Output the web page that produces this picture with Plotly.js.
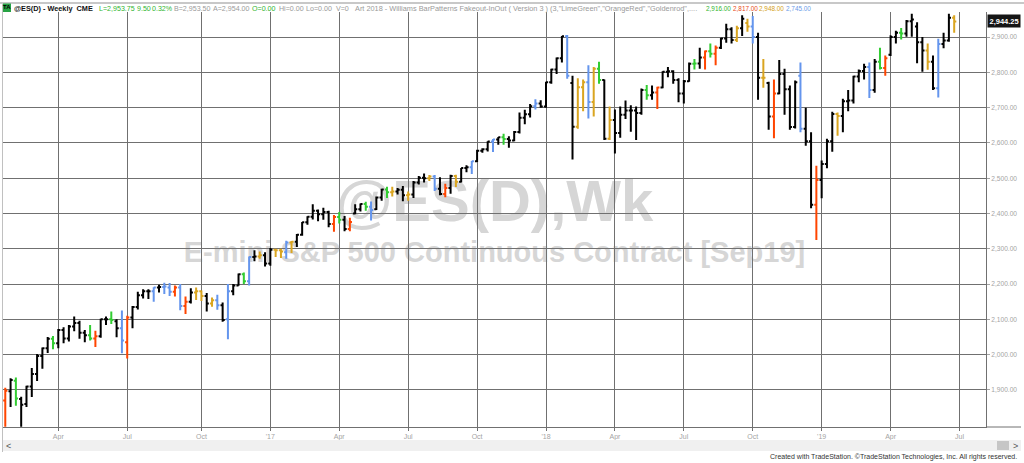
<!DOCTYPE html>
<html>
<head>
<meta charset="utf-8">
<script src="https://cdn.plot.ly/plotly-3.0.1.min.js"></script>
<style>
html,body{margin:0;padding:0;background:#ffffff;}
#chart{width:1024px;height:463px;}
</style>
</head>
<body>
<div id="chart"></div>
<script>
// ---- data: weekly bars of @ES(D), first bar = week ending 2016-01-22 ----
const firstWeekEnding = '2016-01-22';
const opens = [
1870,1896,1926,1874,1860,1910,1945,1996,2018,2045,
2032,2070,2046,2080,2090,2062,2055,2046,2052,2100,
2100,2095,2075,2035,2105,2135,2168,2180,2180,2190,
2192,2190,2178,2190,2138,2150,2176,2180,2166,2145,
2154,2140,2100,2180,2196,2228,2208,2277,2278,2282,
2258,2297,2296,2290,2318,2320,2340,2375,2391,2408,
2398,2404,2370,2390,2382,2356,2400,2412,2427,2419,
2412,2445,2468,2460,2462,2467,2452,2454,2488,2501,
2500,2505,2470,2455,2472,2506,2490,2529,2531,2548,
2578,2582,2604,2610,2616,2611,2607,2631,2671,2681,
2704,2712,2703,2772,2808,2840,2902,2770,2646,2758,
2772,2716,2810,2778,2612,2665,2628,2680,2692,2692,
2685,2750,2735,2743,2757,2802,2803,2778,2740,2775,
2824,2825,2842,2860,2853,2870,2896,2922,2892,2925,
2940,2930,2900,2785,2770,2675,2740,2795,2752,2645,
2790,2640,2605,2425,2495,2540,2605,2682,2676,2718,
2720,2788,2804,2815,2750,2830,2812,2850,2900,2912,
2910,2945,2930,2885,2862,2830,2755,2880,2890,2955];
const highs = [
1906,1933,1935,1881,1912,1962,2002,2020,2050,2053,
2073,2078,2084,2108,2096,2070,2084,2068,2102,2108,
2122,2100,2125,2110,2138,2178,2185,2185,2191,2198,
2204,2203,2196,2200,2165,2188,2190,2182,2175,2162,
2170,2148,2200,2200,2230,2233,2278,2296,2292,2290,
2302,2300,2300,2323,2322,2342,2376,2392,2426,2411,
2416,2408,2396,2404,2393,2388,2426,2428,2433,2434,
2448,2470,2476,2476,2472,2478,2462,2492,2506,2513,
2509,2509,2503,2484,2510,2510,2529,2537,2549,2581,
2585,2605,2611,2617,2626,2619,2634,2686,2694,2710,
2724,2721,2773,2810,2842,2903,2906,2790,2783,2780,
2820,2815,2830,2780,2703,2695,2703,2720,2707,2703,
2754,2764,2763,2759,2803,2815,2806,2783,2778,2828,
2838,2870,2862,2882,2876,2898,2938,2928,2932,2962,
2952,2960,2912,2838,2773,2780,2835,2810,2763,2777,
2828,2700,2630,2535,2550,2612,2688,2686,2725,2750,
2790,2808,2824,2828,2838,2870,2848,2905,2918,2926,
2948,2966,2942,2900,2882,2848,2895,2912,2966,2962];
const lows = [
1796,1852,1855,1796,1852,1880,1925,1960,2005,2015,
2018,2032,2037,2066,2045,2035,2040,2022,2048,2084,
2087,2049,2004,1989,2075,2128,2159,2158,2150,2176,
2172,2166,2165,2126,2115,2145,2155,2152,2122,2136,
2127,2093,2044,2168,2195,2200,2196,2265,2272,2250,
2252,2277,2274,2272,2288,2305,2337,2368,2383,2378,
2382,2361,2348,2372,2350,2350,2398,2406,2408,2380,
2410,2436,2444,2448,2454,2435,2436,2444,2482,2488,
2492,2464,2452,2446,2456,2475,2488,2517,2512,2546,
2572,2576,2574,2595,2595,2586,2605,2627,2653,2672,
2695,2700,2700,2768,2795,2828,2782,2553,2640,2690,
2669,2675,2768,2608,2608,2570,2615,2668,2632,2608,
2680,2722,2722,2696,2755,2786,2768,2715,2712,2773,
2808,2810,2808,2842,2820,2866,2884,2882,2886,2903,
2915,2882,2722,2756,2637,2613,2738,2680,2637,2641,
2630,2592,2415,2325,2443,2528,2575,2620,2630,2690,
2712,2772,2780,2727,2742,2808,2790,2846,2882,2893,
2901,2901,2826,2802,2807,2750,2729,2868,2887,2912];
const closes = [
1898,1928,1876,1858,1910,1945,1996,2018,2045,2032,
2070,2046,2080,2090,2062,2055,2046,2052,2100,2100,
2098,2075,2040,2105,2135,2168,2180,2180,2190,2192,
2193,2178,2190,2138,2150,2176,2180,2166,2145,2154,
2140,2098,2180,2196,2228,2208,2277,2278,2282,2258,
2297,2296,2292,2318,2320,2340,2375,2391,2408,2398,
2404,2370,2390,2382,2356,2376,2412,2427,2419,2410,
2445,2468,2460,2462,2467,2452,2454,2488,2501,2500,
2505,2470,2455,2472,2506,2490,2529,2531,2548,2578,
2582,2604,2610,2616,2611,2607,2631,2671,2681,2704,
2712,2703,2772,2808,2840,2902,2790,2646,2758,2772,
2716,2810,2778,2612,2665,2628,2680,2692,2692,2685,
2750,2735,2743,2757,2802,2803,2778,2740,2775,2824,
2825,2842,2860,2853,2870,2896,2922,2892,2925,2952,
2930,2900,2785,2785,2675,2740,2795,2752,2645,2772,
2640,2605,2425,2495,2540,2605,2682,2676,2718,2720,
2788,2804,2815,2750,2830,2812,2840,2900,2912,2910,
2945,2950,2885,2862,2830,2755,2880,2890,2955,2944.25];
// bar pattern colour code for each bar (k=plain, g=LimeGreen, r=OrangeRed, y=Goldenrod, b=CornflowerBlue)
const patterns = (
"rkgkkkkkkg"+"kkkkkkgrkk"+"gkbrkkkkbk"+"bbrbrkyyky"+"bkbkkgbkyk"+
"kyybykkkkk"+"kkrgkrkkgb"+"kkgykkykkk"+"ybkrkykkbk"+"kkbkgkkkkk"+
"bkkkkkbkyy"+"bygkykkkkk"+"kgkrkkkkkk"+"gkrgrkkkyk"+"ybkykrkkkk"+
"bkkrkkkykk"+"kkkbkgrkkg"+"kkkkykbkky").split('');
const patternColors = {k:'#000000', g:'#32CD32', r:'#FF4500', y:'#DAA520', b:'#6495ED'};
const monthNames = {3:'Apr', 6:'Jul', 9:'Oct'};
const priceTicks = [1900,2000,2100,2200,2300,2400,2500,2600,2700,2800,2900];
const lastPrice = 2944.25;

// ---- build ----
const n = closes.length;
const axisEnd = 185;
const t0 = Date.parse(firstWeekEnding + 'T00:00:00Z');
const xs = [], tickvals = [], ticktext = [];
for (let k = 0; k <= axisEnd; k++) {
  const d = new Date(t0 + k * 7 * 86400000);
  if (k < n) xs.push(k);
  const m = d.getUTCMonth();
  if (m % 3 === 0 && d.getUTCDate() <= 7) {
    tickvals.push(k);
    ticktext.push(m === 0 ? "'" + String(d.getUTCFullYear()).slice(2) : monthNames[m]);
  }
}
const traces = Object.keys(patternColors).map(code => {
  const pick = arr => arr.map((v, i) => patterns[i] === code ? v : null);
  return {
    type: 'ohlc', x: xs,
    open: pick(opens), high: pick(highs), low: pick(lows), close: pick(closes),
    increasing: {line: {color: patternColors[code], width: 2}},
    decreasing: {line: {color: patternColors[code], width: 2}},
    tickwidth: 0.4, hoverinfo: 'skip', showlegend: false
  };
});

const px = X => (X - 3) / 983;
const py = Y => (427 - Y) / 415;
const F = 'Liberation Sans, Arial, sans-serif';
const gray = '#9a9a9a', green = '#2fb52f';
const hdr = (x, text, color, size) => ({xref:'paper', yref:'paper', x:px(x), y:py(8.5), xanchor:'left', yanchor:'middle',
  text:text, showarrow:false, font:{family:F, size:size || 7.1, color:color}, borderpad:0});

const annotations = [
  {xref:'paper', yref:'paper', x:px(7), y:py(7.5), xanchor:'center', yanchor:'middle', text:'<b>TA</b>', showarrow:false, font:{family:F, size:6, color:'#000'}},
  hdr(13, '<b>@ES(D) - Weekly\u00a0\u00a0CME</b>', '#111', 7.3),
  hdr(98, 'L=2,953.75', green), hdr(136, '9.50', green), hdr(151, '0.32%', green),
  hdr(173, 'B=2,953.50', gray), hdr(212, 'A=2,954.00', gray),
  hdr(251, 'O=0.00', green),
  hdr(277.5, 'Hi=0.00', gray), hdr(305, 'Lo=0.00', gray), hdr(335, 'V=0', gray),
  hdr(354, 'Art 2018 - Williams BarPatterns Fakeout-InOut ( Version 3 ) (3,"LimeGreen","OrangeRed","Goldenrod",....', gray, 7.35),
  hdr(705, '2,916.00', green, 6.4), hdr(731.5, '2,817.00', '#e84b1a', 6.4), hdr(758, '2,948.00', '#d4a017', 6.4), hdr(784.5, '2,745.00', '#6a9be8', 6.4),
  {xref:'paper', yref:'y', x:px(987), y:lastPrice, xanchor:'left', yanchor:'middle', text:'<b>2,944.25</b>', showarrow:false,
   font:{family:F, size:7.5, color:'#ffffff'}, bgcolor:'#151515', borderpad:1.5},
  {xref:'paper', yref:'paper', x:px(8), y:py(445.5), xanchor:'center', yanchor:'middle', text:'&lt;', showarrow:false, font:{family:F, size:9, color:'#555'}},
  {xref:'paper', yref:'paper', x:px(1015), y:py(445.5), xanchor:'center', yanchor:'middle', text:'&gt;', showarrow:false, font:{family:F, size:9, color:'#555'}},
  {xref:'paper', yref:'paper', x:px(1019), y:py(457), xanchor:'right', yanchor:'middle', showarrow:false,
   text:'Created with TradeStation. ©TradeStation Technologies, Inc. All rights reserved.', font:{family:F, size:7.0, color:'#333'}}
];

const shapes = [
  {type:'rect', xref:'paper', yref:'paper', x0:0, x1:1, y0:py(225), y1:py(165), line:{width:0}, fillcolor:'rgba(0,0,0,0)', layer:'below',
   label:{text:'@ES(D),Wk', textposition:'middle center', font:{family:F, size:58, color:'#d6d6d6', weight:'bold'}}},
  {type:'rect', xref:'paper', yref:'paper', x0:0, x1:1, y0:py(264), y1:py(234), line:{width:0}, fillcolor:'rgba(0,0,0,0)', layer:'below',
   label:{text:'E-mini S&P 500 Continuous Contract [Sep19]', textposition:'middle center', font:{family:F, size:29, color:'#d6d6d6', weight:'bold'}}},
  {type:'line', xref:'paper', yref:'paper', x0:px(0), x1:px(1024), y0:py(3), y1:py(3), line:{color:'#c8c8c8', width:2}},
  {type:'line', xref:'paper', yref:'paper', x0:px(2.5), x1:px(2.5), y0:py(4), y1:py(452), line:{color:'#c0c0c0', width:1}},
  {type:'rect', xref:'paper', yref:'paper', x0:px(3), x1:px(11), y0:py(12), y1:py(3.5), line:{width:0}, fillcolor:'#27a243'},
  {type:'line', xref:'paper', yref:'paper', x0:1, x1:px(1021), y0:0, y1:0, line:{color:'#707070', width:1}},
  {type:'rect', xref:'paper', yref:'paper', x0:px(3), x1:px(1021), y0:py(451), y1:py(440), line:{width:0}, fillcolor:'#f0f0f0'},
  {type:'rect', xref:'paper', yref:'paper', x0:px(997), x1:px(1009), y0:py(450), y1:py(441), line:{width:0}, fillcolor:'#c6c6c6'}
];

const layout = {
  width:1024, height:463,
  margin:{l:3, r:38, t:12, b:36, pad:0},
  paper_bgcolor:'#ffffff', plot_bgcolor:'#ffffff',
  showlegend:false, dragmode:false,
  xaxis:{type:'linear', range:[-0.43, axisEnd], tickmode:'array', tickvals:tickvals, ticktext:ticktext,
    showgrid:true, gridcolor:'#707070', gridwidth:1, zeroline:false,
    showline:true, linecolor:'#707070', linewidth:1,
    ticks:'outside', ticklen:3, tickcolor:'#707070',
    tickfont:{family:F, size:7, color:'#a4a4a4'}, rangeslider:{visible:false}, fixedrange:true},
  yaxis:{side:'right', range:[1795, 2971], tickmode:'array', tickvals:priceTicks, tickformat:',.2f',
    showgrid:true, gridcolor:'#707070', gridwidth:1, zeroline:false,
    showline:true, linecolor:'#707070', linewidth:1,
    ticks:'outside', ticklen:3, tickcolor:'#a4a4a4',
    tickfont:{family:F, size:6.6, color:'#a4a4a4'}, fixedrange:true},
  annotations:annotations,
  shapes:shapes
};

Plotly.newPlot('chart', traces, layout, {staticPlot:true, displayModeBar:false});
</script>
</body>
</html>
